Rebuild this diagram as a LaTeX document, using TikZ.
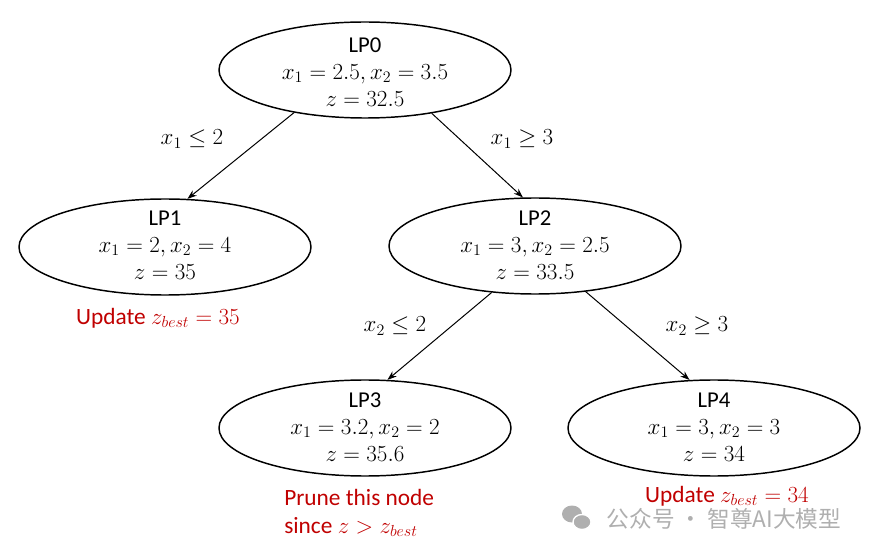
\documentclass[tikz,border=0pt]{standalone}
\usepackage{fontspec}
\setmainfont{Carlito}
\newfontfamily\cjk{Noto Sans CJK SC}
\usetikzlibrary{shapes.geometric,arrows.meta}
\definecolor{notered}{RGB}{192,0,0}
\definecolor{wmgray}{RGB}{175,175,175}
\begin{document}
\begin{tikzpicture}[x=0.75pt,y=-0.75pt,
  lp/.style={ellipse, draw, line width=1.1pt, minimum width=219pt, minimum height=72pt, inner sep=0pt},
  lptext/.style={align=center, font=\fontsize{17}{20.4}\selectfont, inner sep=0pt},
  edge/.style={-{Stealth[length=7pt,width=5pt]}, line width=0.75pt},
  elab/.style={font=\fontsize{16.5}{20}\selectfont, inner sep=0pt},
  note/.style={text=notered, align=center, font=\fontsize{17.5}{21}\selectfont, inner sep=0pt},
  wm/.style={text=wmgray, font=\cjk\fontsize{17}{20}\selectfont, inner sep=0pt}]
\useasboundingbox (0,0) rectangle (875,552);
% ellipses
\node[lp] (lp0) at (365,70) {};
\node[lp] (lp1) at (165,247) {};
\node[lp] (lp2) at (535,246) {};
\node[lp] (lp3) at (365,428) {};
\node[lp] (lp4) at (714,428) {};
% texts
\node[lptext] (t0) at (365,72) {LP0\\ $x_1 = 2.5, x_2 = 3.5$\\ $z = 32.5$};
\node[lptext] (t1) at (165,245) {LP1\\ $x_1 = 2, x_2 = 4$\\ $z = 35$};
\node[lptext] (t2) at (535,245) {LP2\\ $x_1 = 3, x_2 = 2.5$\\ $z = 33.5$};
\node[lptext] (t3) at (365,427) {LP3\\ $x_1 = 3.2, x_2 = 2$\\ $z = 35.6$};
\node[lptext] (t4) at (714,427) {LP4\\ $x_1 = 3, x_2 = 3$\\ $z = 34$};
% edges
\draw[edge] (lp0.211) -- (lp1.65);
\draw[edge] (lp0.327) -- (lp2.104);
\draw[edge] (lp2.227) -- (lp3.65);
\draw[edge] (lp2.318) -- (lp4.117);
% edge labels
\node[elab] (e1) at (192,139) {$x_1 \leq 2$};
\node[elab] (e2) at (522,139) {$x_1 \geq 3$};
\node[elab] (e3) at (395,326) {$x_2 \leq 2$};
\node[elab] (e4) at (697,326) {$x_2 \geq 3$};
% notes
\node[note] (n1) at (158,318) {Update $z_{best} = 35$};
\node[note, align=left, anchor=west] (n3) at (284,513) {Prune this node\\ since $z > z_{best}$};
\node[note] (n4) at (727,496) {Update $z_{best} = 34$};
% watermark
\fill[wmgray] (572,514) ellipse (10 and 8.5);
\fill[wmgray, draw=white, line width=1pt] (582,522) ellipse (9 and 7.5);
\node[wm] (wm) at (724,519) {公众号 · 智尊AI大模型};
\end{tikzpicture}
\end{document}
